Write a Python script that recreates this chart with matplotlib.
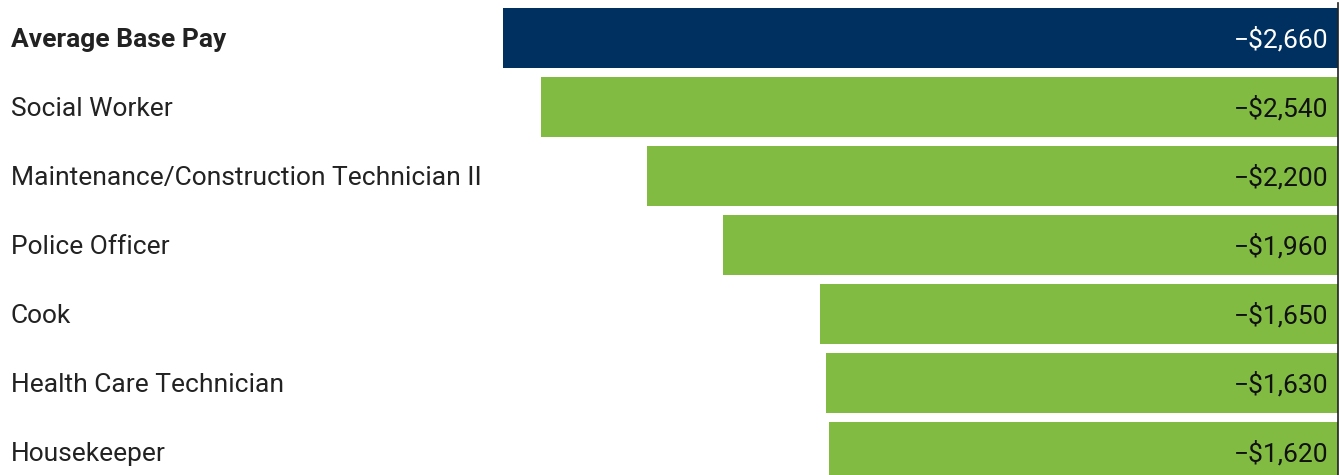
import matplotlib
matplotlib.use("Agg")
import matplotlib.pyplot as plt
from matplotlib.transforms import blended_transform_factory

# data
jobs = ["Average Base Pay", "Social Worker", "Maintenance/Construction Technician II",
        "Police Officer", "Cook", "Health Care Technician", "Housekeeper"]
pay_change = [-2660, -2540, -2200, -1960, -1650, -1630, -1620]

navy = "#00305f"
green = "#82bb41"
colors = [navy] + [green] * (len(jobs) - 1)

plt.rcParams['font.family'] = ['Roboto', 'DejaVu Sans']

W, H = 1340, 475
fig = plt.figure(figsize=(W / 100, H / 100), dpi=100)
ax = fig.add_axes([503 / W, 0, (1338 - 503) / W, (475 - 3.5) / H])

y = list(range(len(jobs)))
ax.barh(y, pay_change, height=0.87, color=colors)
ax.set_xlim(min(pay_change), 0)
ax.set_ylim(6 + (475 - 452) / 69, -0.5)

for s in ["top", "bottom", "left"]:
    ax.spines[s].set_visible(False)
ax.spines["right"].set_color("#222222")
ax.spines["right"].set_linewidth(1.2)
ax.set_xticks([])
ax.set_yticks([])

# nudge text down a couple of pixels to sit like the original
dy = 0.025
trans = blended_transform_factory(fig.transFigure, ax.transData)
for i, (name, val) in enumerate(zip(jobs, pay_change)):
    ax.text(11 / W, i + dy, name, transform=trans, ha="left", va="center",
            fontsize=19, color="#222222",
            fontweight="bold" if i == 0 else "normal")
    ax.text(1328 / W, i + dy, "\u2212${:,}".format(abs(val)), transform=trans,
            ha="right", va="center", fontsize=19,
            color="white" if i == 0 else "#111111")

fig.savefig("out.png", dpi=100)
